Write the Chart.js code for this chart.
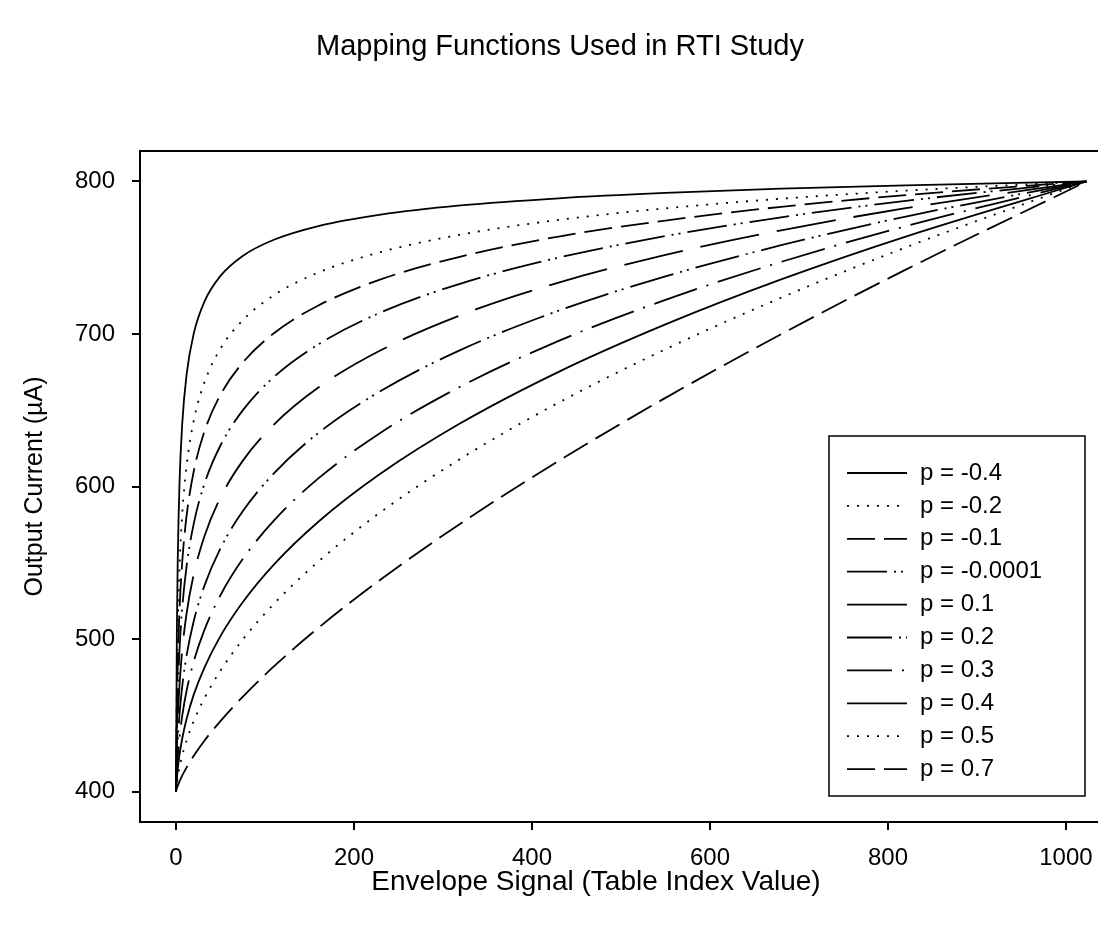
<!DOCTYPE html>
<html>
<head>
<meta charset="utf-8">
<title>Mapping Functions Used in RTI Study</title>
<script src="https://cdn.jsdelivr.net/npm/chart.js@4.4.1/dist/chart.umd.min.js"></script>
<style>
  html, body { margin: 0; padding: 0; background: #fff; }
  #wrap { width: 1098px; height: 935px; }
</style>
</head>
<body>
<div id="wrap"><canvas id="mappingChart" width="1098" height="935"></canvas></div>
<script>
// envelope signal (table index) where the curves were read
const envelopeIdx = [0, 1, 2, 4, 7, 12, 20, 32, 50, 75, 110, 160, 230, 320, 430, 550, 680, 820, 1023];

// output current (uA), one list per mapping curve
const curPm04 = [400, 503.3, 551.7, 602.5, 640.9, 673.7, 700.4, 721.3, 738.1, 751.2, 761.8, 770.8, 778.3, 784.3, 789.0, 792.5, 795.3, 797.5, 800];
const curPm02 = [400, 469.0, 505.2, 546.8, 581.5, 614.0, 643.2, 668.3, 690.4, 709.0, 725.4, 740.3, 753.7, 765.2, 774.8, 782.4, 788.7, 794.0, 800];
const curPm01 = [400, 453.6, 483.2, 518.9, 550.2, 581.0, 610.0, 636.1, 660.1, 681.2, 700.5, 718.7, 735.8, 750.8, 763.9, 774.4, 783.4, 791.1, 800];
const curP0 = [400, 440.0, 463.4, 492.9, 520.0, 548.0, 575.7, 601.8, 626.9, 649.9, 671.8, 693.2, 714.1, 733.1, 750.1, 764.2, 776.5, 787.3, 800];
const curP01 = [400, 428.7, 446.4, 469.8, 492.5, 517.0, 542.4, 567.4, 592.7, 616.8, 640.6, 664.9, 689.3, 712.4, 733.7, 751.9, 768.0, 782.5, 800];
const curP02 = [400, 419.8, 432.8, 450.6, 468.8, 489.4, 511.8, 535.0, 559.4, 583.7, 608.6, 635.1, 662.6, 689.6, 715.3, 737.8, 758.2, 777.0, 800];
const curP03 = [400, 413.2, 422.3, 435.5, 449.5, 466.2, 485.3, 506.0, 528.7, 552.4, 577.6, 605.3, 635.3, 665.6, 695.5, 722.4, 747.3, 770.7, 800];
const curP04 = [400, 408.5, 414.7, 424.1, 434.6, 447.7, 463.5, 481.3, 501.9, 524.1, 548.8, 576.9, 608.5, 641.6, 675.2, 706.3, 735.8, 763.9, 800];
const curP05 = [400, 405.3, 409.4, 415.9, 423.6, 433.6, 446.2, 461.2, 479.2, 499.6, 523.0, 550.8, 583.2, 618.3, 655.0, 690.0, 723.8, 756.8, 800];
const curP07 = [400, 402.0, 403.6, 406.6, 410.4, 415.8, 423.4, 433.3, 446.2, 462.1, 482.0, 507.3, 539.0, 575.8, 616.8, 658.1, 699.9, 742.2, 800];

const seriesLabels = ["p = -0.4", "p = -0.2", "p = -0.1", "p = -0.0001", "p = 0.1", "p = 0.2", "p = 0.3", "p = 0.4", "p = 0.5", "p = 0.7"];
const xTickValues = [0, 200, 400, 600, 800, 1000];
const yTickValues = [400, 500, 600, 700, 800];

const fontFamily = "'Liberation Sans', Arial, sans-serif";

// line styles, same order as the labels
const dashStyles = [
    [],
    [2, 8],
    [28, 9],
    [40, 7, 2, 5, 2, 7],
    [60, 18],
    [45, 7, 2, 5, 2, 7],
    [45, 10, 2, 10],
    [],
    [2, 8],
    [28, 9]
];

const allCurves = [curPm04, curPm02, curPm01, curP0, curP01, curP02, curP03, curP04, curP05, curP07];

const datasets = allCurves.map((vals, i) => ({
    label: seriesLabels[i],
    data: vals.map((v, k) => ({ x: envelopeIdx[k], y: v })),
    borderColor: "#000",
    borderWidth: 1.8,
    borderDash: dashStyles[i],
    pointRadius: 0,
    fill: false,
    cubicInterpolationMode: "monotone"
}));

// frame top edge, chart title and x axis caption
const frameAndText = {
    id: "frameAndText",
    afterDraw(chart) {
        const { ctx, chartArea } = chart;
        ctx.save();
        ctx.strokeStyle = "#000";
        ctx.lineWidth = 2;
        ctx.beginPath();
        ctx.moveTo(chartArea.left, chartArea.top);
        ctx.lineTo(chartArea.right, chartArea.top);
        ctx.stroke();

        ctx.fillStyle = "#000";
        ctx.textAlign = "center";
        ctx.textBaseline = "middle";
        ctx.font = "29px " + fontFamily;
        ctx.fillText("Mapping Functions Used in RTI Study", 560, 47);
        ctx.font = "28px " + fontFamily;
        ctx.fillText("Envelope Signal (Table Index Value)", 596, 882);
        ctx.restore();
    }
};

// legend in a framed box at lower right of the plot
const boxedLegend = {
    id: "boxedLegend",
    afterDraw(chart) {
        const ctx = chart.ctx;
        const left = 829, top = 436, w = 256, h = 360;
        ctx.save();
        ctx.fillStyle = "#fff";
        ctx.fillRect(left, top, w, h);
        ctx.strokeStyle = "#000";
        ctx.lineWidth = 1.5;
        ctx.setLineDash([]);
        ctx.strokeRect(left, top, w, h);

        ctx.font = "24px " + fontFamily;
        ctx.textBaseline = "middle";
        ctx.fillStyle = "#000";
        chart.data.datasets.forEach((ds, i) => {
            const y = 473 + i * 32.9;
            ctx.setLineDash(ds.borderDash);
            ctx.lineWidth = 1.8;
            ctx.beginPath();
            ctx.moveTo(847, y);
            ctx.lineTo(907, y);
            ctx.stroke();
            ctx.setLineDash([]);
            ctx.fillText(ds.label, 920, y);
        });
        ctx.restore();
    }
};

new Chart(document.getElementById("mappingChart"), {
    type: "line",
    data: { datasets: datasets },
    options: {
        responsive: false,
        animation: false,
        devicePixelRatio: 1,
        layout: { padding: { top: 151, left: 0, right: 0, bottom: 0 } },
        plugins: {
            legend: { display: false },
            tooltip: { enabled: false },
            title: { display: false }
        },
        scales: {
            x: {
                type: "linear",
                min: -40.4,
                max: 1036,
                afterBuildTicks: scale => { scale.ticks = xTickValues.map(v => ({ value: v })); },
                afterFit: scale => {
                    scale.height = 113;
                    scale.paddingLeft = 0;
                    scale.paddingRight = 0;
                },
                grid: { drawOnChartArea: false, drawTicks: true, tickLength: 8, color: "#000", lineWidth: 2 },
                border: { display: true, color: "#000", width: 2 },
                ticks: {
                    color: "#000",
                    padding: 14,
                    maxRotation: 0,
                    font: { family: fontFamily, size: 24 },
                    callback: v => String(v)
                }
            },
            y: {
                type: "linear",
                min: 380,
                max: 820,
                afterBuildTicks: scale => { scale.ticks = yTickValues.map(v => ({ value: v })); },
                afterFit: scale => {
                    scale.width = 140;
                    scale.paddingTop = 0;
                    scale.paddingBottom = 0;
                },
                grid: { drawOnChartArea: false, drawTicks: true, tickLength: 8, color: "#000", lineWidth: 2 },
                border: { display: true, color: "#000", width: 2 },
                ticks: {
                    color: "#000",
                    padding: 17,
                    font: { family: fontFamily, size: 24 },
                    callback: v => String(v)
                },
                title: {
                    display: true,
                    text: "Output Current (\u00b5A)",
                    color: "#000",
                    font: { family: fontFamily, size: 25 },
                    padding: { top: 20, bottom: 0 }
                }
            }
        }
    },
    plugins: [frameAndText, boxedLegend]
});
</script>
</body>
</html>
